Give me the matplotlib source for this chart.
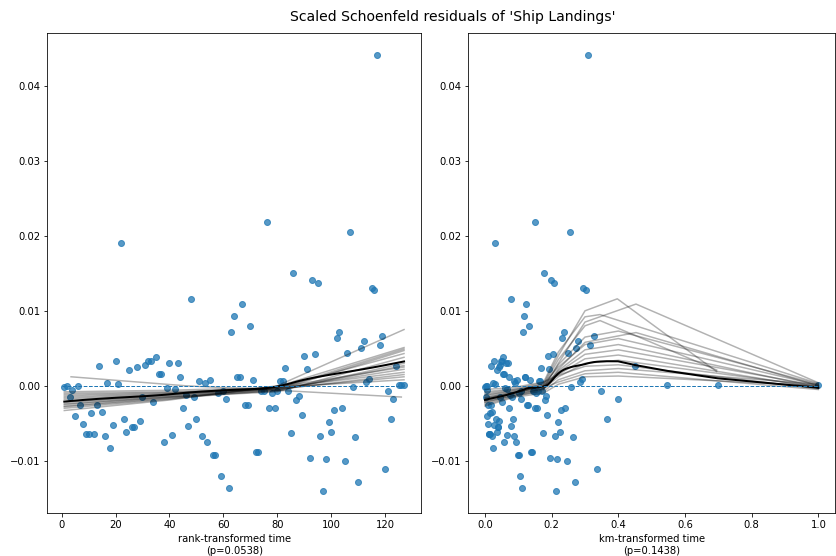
import numpy as np
import matplotlib
matplotlib.use("Agg")
import matplotlib.pyplot as plt

# ---------------- data ----------------
rank_time = list(range(1, 128))

residuals = [
    -0.0001, 0.0000, -0.0015, -0.0005, -0.0040, 0.0000, -0.0026, -0.0051, -0.0064, -0.0064,
    -0.0036, -0.0064, -0.0026, 0.0027, -0.0035, -0.0067, 0.0004, -0.0083, -0.0052, 0.0033,
    0.0003, 0.0191, -0.0044, -0.0062, 0.0021, -0.0055, -0.0055, 0.0025, -0.0047, -0.0015,
    0.0028, 0.0033, 0.0033, -0.0022, 0.0039, 0.0016, 0.0016, -0.0075, -0.0003, 0.0030,
    -0.0065, -0.0004, 0.0030, 0.0012, -0.0029, -0.0012, -0.0053, 0.0116, -0.0015, -0.0044,
    0.0007, -0.0067, 0.0004, -0.0075, 0.0008, -0.0092, -0.0092, -0.0010, -0.0121, -0.0007,
    -0.0017, -0.0136, 0.0072, 0.0093, 0.0012, 0.0012, 0.0109, -0.0026, -0.0026, 0.0080,
    0.0008, -0.0088, -0.0088, -0.0007, -0.0007, 0.0219, -0.0029, -0.0010, -0.0029, -0.0007,
    0.0006, 0.0006, 0.0024, -0.0007, -0.0063, 0.0151, -0.0019, -0.0013, -0.0039, 0.0040,
    0.0022, -0.0096, 0.0141, 0.0043, 0.0137, -0.0067, -0.0141, -0.0098, -0.0048, -0.0061,
    -0.0032, 0.0064, 0.0072, -0.0030, -0.0100, 0.0044, 0.0205, -0.0001, -0.0068, -0.0128,
    0.0050, 0.0060, 0.0005, 0.0009, 0.0131, 0.0128, 0.0441, 0.0054, 0.0067, -0.0111,
    -0.0007, -0.0044, -0.0017, 0.0027, 0.0001, 0.0001, 0.0001,
]

km_time = [
    0.000, 0.002, 0.003, 0.005, 0.006, 0.007, 0.009, 0.010, 0.011, 0.013,
    0.014, 0.015, 0.017, 0.019, 0.020, 0.022, 0.023, 0.025, 0.026, 0.028,
    0.030, 0.0315, 0.033, 0.035, 0.036, 0.038, 0.040, 0.041, 0.043, 0.045,
    0.046, 0.048, 0.050, 0.051, 0.053, 0.055, 0.056, 0.058, 0.060, 0.062,
    0.065, 0.067, 0.069, 0.071, 0.073, 0.075, 0.077, 0.079, 0.081, 0.083,
    0.086, 0.088, 0.090, 0.092, 0.095, 0.099, 0.101, 0.103, 0.105, 0.107,
    0.109, 0.111, 0.114, 0.117, 0.119, 0.121, 0.123, 0.126, 0.128, 0.131,
    0.134, 0.137, 0.140, 0.143, 0.146, 0.149, 0.151, 0.154, 0.157, 0.159,
    0.162, 0.164, 0.167, 0.170, 0.173, 0.178, 0.181, 0.183, 0.186, 0.189,
    0.192, 0.196, 0.199, 0.203, 0.207, 0.210, 0.213, 0.217, 0.220, 0.224,
    0.228, 0.232, 0.236, 0.240, 0.245, 0.250, 0.255, 0.259, 0.265, 0.270,
    0.274, 0.279, 0.285, 0.290, 0.295, 0.302, 0.309, 0.316, 0.326, 0.336,
    0.347, 0.365, 0.399, 0.451, 0.545, 0.698, 1.000,
]

p_values = {"rank": 0.0538, "km": 0.1438}
variable = "Ship Landings"

# Bootstrap lowess curves (knot values)
rank_boot_x = [
    [3.5, 46, 80, 126], [1, 40, 80, 127], [1, 40, 80, 127], [1, 40, 80, 127],
    [1, 40, 80, 127], [1, 40, 80, 127], [1, 40, 80, 127], [2, 40, 80, 127],
    [1, 40, 80, 127], [1, 40, 80, 127], [1, 40, 80, 127], [1, 40, 80, 127],
    [1, 40, 80, 127], [1, 40, 80, 127], [1, 40, 80, 127],
]
rank_boot_y = [
    [0.0012, 0.0000, -0.0006, -0.0015],
    [-0.0008, -0.0006, -0.0002, 0.0008],
    [-0.0010, -0.0008, -0.0004, 0.0012],
    [-0.0012, -0.0009, -0.0003, 0.0018],
    [-0.0014, -0.0010, -0.0005, 0.0015],
    [-0.0016, -0.0011, -0.0004, 0.0022],
    [-0.0018, -0.0012, -0.0006, 0.0027],
    [-0.0021, -0.0013, -0.0002, 0.0025],
    [-0.0022, -0.0014, -0.0007, 0.0030],
    [-0.0024, -0.0015, -0.0003, 0.0043],
    [-0.0025, -0.0015, -0.0008, 0.0038],
    [-0.0027, -0.0016, -0.0004, 0.0049],
    [-0.0028, -0.0017, -0.0006, 0.0047],
    [-0.0030, -0.0018, -0.0001, 0.0051],
    [-0.0033, -0.0019, 0.0000, 0.0075],
]

km_boot_x_head = [0.0, 0.09, 0.175, 0.22, 0.30]
km_boot_head = [
    [-0.0012, -0.0006, 0.0002, 0.0040, 0.0100],
    [-0.0018, -0.0010, -0.0004, 0.0030, 0.0085],
    [-0.0008, -0.0004, 0.0004, 0.0045, 0.0092],
    [-0.0020, -0.0010, 0.0000, 0.0035, 0.0080],
    [-0.0015, -0.0008, -0.0002, 0.0028, 0.0065],
    [-0.0022, -0.0012, -0.0005, 0.0022, 0.0058],
    [-0.0010, -0.0005, 0.0002, 0.0025, 0.0055],
    [-0.0025, -0.0014, -0.0006, 0.0020, 0.0048],
    [-0.0017, -0.0009, 0.0000, 0.0018, 0.0042],
    [-0.0013, -0.0007, -0.0001, 0.0015, 0.0036],
    [-0.0021, -0.0012, -0.0004, 0.0012, 0.0030],
    [-0.0005, -0.0002, 0.0005, 0.0014, 0.0026],
    [-0.0023, -0.0013, -0.0008, 0.0008, 0.0020],
    [-0.0016, -0.0009, -0.0003, 0.0005, 0.0016],
    [-0.0027, -0.0015, -0.0010, 0.0002, 0.0012],
]
km_boot_peak_x = [0.397, 0.453, 0.345, 0.345, 0.40, 0.453, 0.40, 0.40, 0.40, 0.40, 0.40, 0.40, 0.40, 0.40, 0.40]
km_boot_peak_y = [0.0116, 0.0109, 0.0095, 0.0087, 0.0073, 0.0071, 0.0063, 0.0055, 0.0048, 0.0041, 0.0034, 0.0028, 0.0023, 0.0018, 0.0013]
km_boot_end_x = [0.695, 1.0, 1.0, 0.695, 1.0, 1.0, 1.0, 1.0, 1.0, 1.0, 1.0, 1.0, 1.0, 1.0, 1.0]
km_boot_end_y = [0.0019, 0.0004, 0.0003, 0.0021, 0.0002, 0.0000, 0.0001, -0.0002, 0.0000, -0.0003, -0.0001, -0.0004, 0.0002, -0.0005, 0.0000]


def lowess(x, y, f=2.0 / 3.0, iterations=1):
    x = np.asarray(x, float)
    y = np.asarray(y, float)
    n = len(x)
    r = int(np.ceil(f * n))
    h = np.clip([np.sort(np.abs(x - x[i]))[r] for i in range(n)], 1e-8, np.inf)
    w = np.clip(np.abs((x[:, None] - x[None, :]) / h), 0.0, 1.0)
    w = (1 - w ** 3) ** 3
    yest = np.zeros(n)
    delta = np.ones(n)
    for _ in range(iterations):
        for i in range(n):
            weights = delta * w[:, i]
            b = np.array([np.sum(weights * y), np.sum(weights * y * x)])
            A = np.array([[np.sum(weights), np.sum(weights * x)],
                          [np.sum(weights * x), np.sum(weights * x * x)]])
            theta = np.linalg.solve(A, b)
            yest[i] = theta[0] + theta[1] * x[i]
        res = y - yest
        s = np.median(np.abs(res))
        d = np.clip(res / (6.0 * s), -1, 1)
        delta = (1 - d ** 2) ** 2
    return yest


DPI = 72
fig = plt.figure(figsize=(836 / DPI, 556 / DPI), dpi=DPI)
ax1 = fig.add_axes([0.0566, 0.0768, 0.4470, 0.8632])
ax2 = fig.add_axes([0.5602, 0.0768, 0.4386, 0.8632])

y = np.array(residuals)

# rank panel
tt = np.array(rank_time, float)
ax1.scatter(tt, y, alpha=0.75)
ax1.plot(tt, lowess(tt, y), color="k", alpha=1.0, linewidth=2)
for xs, ys in zip(rank_boot_x, rank_boot_y):
    ax1.plot(xs, ys, color="k", alpha=0.30)
xl = ax1.get_xlim()
ax1.hlines(0, 0, tt.max(), linestyles="dashed", linewidths=1)
ax1.set_xlim(xl)
ax1.set_xlabel("rank-transformed time\n(p=%.4f)" % p_values["rank"], fontsize=10)

# km panel
tk = np.array(km_time, float)
ax2.scatter(tk, y, alpha=0.75)
ax2.plot(tk, lowess(tk, y), color="k", alpha=1.0, linewidth=2)
for head, px, py, ex, ey in zip(km_boot_head, km_boot_peak_x, km_boot_peak_y,
                                km_boot_end_x, km_boot_end_y):
    ax2.plot(km_boot_x_head + [px, ex], head + [py, ey], color="k", alpha=0.30)
xl = ax2.get_xlim()
ax2.hlines(0, 0, tk.max(), linestyles="dashed", linewidths=1)
ax2.set_xlim(xl)
ax2.set_xlabel("km-transformed time\n(p=%.4f)" % p_values["km"], fontsize=10)

fig.suptitle("Scaled Schoenfeld residuals of '%s'" % variable, fontsize=14,
             x=0.542, y=0.982)

fig.savefig("out.png", dpi=DPI)
